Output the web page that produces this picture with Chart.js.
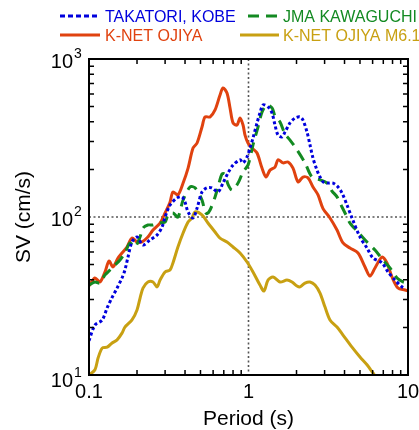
<!DOCTYPE html>
<html>
<head>
<meta charset="utf-8">
<script src="https://cdn.jsdelivr.net/npm/chart.js@4"></script>
<style>
  html, body { margin: 0; padding: 0; background: #fff; }
  #wrap { width: 419px; height: 430px; }
</style>
</head>
<body>
<div id="wrap"><canvas id="c" width="419" height="430"></canvas></div>
<script>
// period (s) and SV (cm/s)
let takatoriT  = [0.1,0.109,0.121,0.130,0.139,0.150,0.161,0.168,0.1756,0.186,0.200,0.218,0.241,0.267,0.287,0.300,0.308,0.322,0.356,0.383,0.400,0.418,0.449,0.476,0.511,0.549,0.590,0.644,0.692,0.744,0.800,0.885,0.924,0.979,1.022,1.067,1.131,1.180,1.233,1.326,1.404,1.466,1.531,1.622,1.694,1.821,1.957,2.103,2.196,2.327,2.430,2.537,2.688,2.808,2.932,3.151,3.387,3.641,3.857,4.146,4.456,5.0,5.533,6.034,6.871,7.493,8.289,9.171,9.6];
let takatoriSV = [16.5,20.7,22.3,26.6,30.7,35.5,41.1,46.2,55.8,69.5,74.7,66.5,71.5,76.9,86.4,100,107.6,119,132,134,124,107.6,98.6,114,144,153,153,144,164,190,213,230,220,240,273,316,394,455,512,497,455,382,330,321,345,394,423,430,411,345,286,236,198,179,167,164,164,155,142,119,98.6,74.7,63.6,55.0,51.2,44.9,39.9,36.1,35];

let kawaguchiT  = [0.1,0.109,0.117,0.126,0.1354,0.1455,0.1564,0.168,0.1807,0.194,0.209,0.218,0.234,0.252,0.271,0.300,0.313,0.336,0.361,0.389,0.430,0.462,0.511,0.534,0.549,0.574,0.617,0.644,0.682,0.71,0.744,0.79,0.860,0.924,0.993,1.067,1.147,1.215,1.30,1.404,1.466,1.576,1.694,1.821,2.014,2.261,2.501,2.808,3.106,3.338,3.589,3.857,4.146,4.329,4.858,5.533,6.210,6.972,7.712,8.531,9.305,10];
let kawaguchiSV = [37.1,38.8,38.2,43.0,46.2,49.7,53.4,59.2,68.5,64.6,74.7,85.2,89.0,89.0,91.6,93,103,106,100,128,155,153,128,107.6,105,110.7,134,155,187,187,161,148,164,193,213,286,371,461,512,490,436,399,335,307,266,220,179,172,164,146,134,115.7,100,91.6,80.4,69.5,61.8,53.4,47.6,41.1,38.8,38.2];

let ojiyaT  = [0.1,0.109,0.117,0.126,0.1335,0.1414,0.152,0.161,0.173,0.186,0.200,0.215,0.234,0.252,0.279,0.300,0.322,0.336,0.361,0.389,0.418,0.449,0.476,0.511,0.534,0.574,0.617,0.663,0.692,0.733,0.766,0.800,0.847,0.885,0.924,0.951,0.993,1.052,1.131,1.215,1.287,1.364,1.466,1.531,1.646,1.769,1.901,2.044,2.196,2.361,2.537,2.728,2.932,3.243,3.589,3.913,4.329,4.858,5.376,5.778,6.210,6.871,7.385,7.938,8.655,9.577,10];
let ojiyaSV = [36.6,41.1,38.8,44.9,52.7,48.3,55.0,59.2,64.6,73.6,69.5,69.5,74.7,82.7,91.6,106,124,144,138,164,204,273,294,371,430,430,476,592,655,609,490,394,382,423,382,330,294,273,254,204,179,198,207,230,220,223,204,167,179,177,155,138,113,98.6,82.7,68.5,63.6,59.2,48.3,42.3,47.6,55.8,51.2,41.7,35.5,34.5,34.0];

let ojiya61T  = [0.1,0.109,0.114,0.121,0.130,0.139,0.150,0.161,0.168,0.186,0.200,0.209,0.218,0.234,0.252,0.267,0.279,0.300,0.322,0.336,0.361,0.389,0.418,0.442,0.462,0.511,0.557,0.617,0.663,0.733,0.800,0.885,0.979,1.067,1.180,1.251,1.326,1.425,1.576,1.743,1.874,2.014,2.103,2.261,2.430,2.612,2.808,3.018,3.243,3.589,3.913,4.456,5.0,5.533,6.034,6.301];
let ojiya61SV = [10.0,10.8,12.8,14.8,15.0,15.9,16.7,18.4,20.1,22.3,25.8,30.7,35.5,38.8,38.8,36.1,39.9,44.9,46.2,51.2,64.6,79.2,93,98.6,107.6,103,91.6,80.4,73.6,69.5,64.6,59.2,51.9,44.9,37.1,34.0,39.9,41.7,38.8,39.9,38.8,36.6,36.1,38.2,38.8,37.1,33.0,26.9,22.3,20.1,17.9,15.0,13.0,11.6,10.3,9.7];

let seriesNames  = ['TAKATORI, KOBE', 'JMA KAWAGUCHI', 'K-NET OJIYA', 'K-NET OJIYA M6.1'];
let seriesColors = ['#0000dd', '#138a22', '#e0420f', '#c8a012'];

let xMajor = [0.1, 1, 10];
let xTickLabels = ['0.1', '1', '10'];
let yMajor = [10, 100, 1000];
let yTickExps = ['1', '2', '3'];

function pts(xs, ys) {
  return xs.map((x, i) => ({ x: x, y: ys[i] }));
}
function minors(lo, hi) {
  let out = [];
  for (let d = lo; d < hi; d *= 10) {
    for (let k = 2; k <= 9; k++) out.push(d * k);
  }
  return out;
}

const FONT = '"Liberation Sans", Arial, sans-serif';

const decor = {
  id: 'decor',
  beforeDatasetsDraw(chart) {
    const c = chart.ctx, a = chart.chartArea;
    const xs = chart.scales.x, ys = chart.scales.y;
    c.save();
    c.strokeStyle = '#555';
    c.lineWidth = 1.6;
    c.setLineDash([2, 2.5]);
    let gx = xs.getPixelForValue(1);
    let gy = ys.getPixelForValue(100);
    c.beginPath();
    c.moveTo(gx, a.top); c.lineTo(gx, a.bottom);
    c.moveTo(a.left, gy); c.lineTo(a.right, gy);
    c.stroke();
    c.restore();
  },
  afterDatasetsDraw(chart) {
    const c = chart.ctx, a = chart.chartArea;
    const xs = chart.scales.x, ys = chart.scales.y;
    c.save();
    // frame
    c.strokeStyle = '#000';
    c.lineWidth = 2;
    c.strokeRect(a.left, a.top, a.right - a.left, a.bottom - a.top);
    // inward ticks on all sides
    c.lineWidth = 1.5;
    c.beginPath();
    minors(0.1, 10).forEach(v => {
      let px = xs.getPixelForValue(v);
      c.moveTo(px, a.bottom); c.lineTo(px, a.bottom - 5);
      c.moveTo(px, a.top); c.lineTo(px, a.top + 5);
    });
    minors(10, 1000).forEach(v => {
      let py = ys.getPixelForValue(v);
      c.moveTo(a.left, py); c.lineTo(a.left + 5, py);
      c.moveTo(a.right, py); c.lineTo(a.right - 5, py);
    });
    c.stroke();

    // x tick labels
    c.fillStyle = '#000';
    c.font = '20px ' + FONT;
    c.textAlign = 'center';
    c.textBaseline = 'alphabetic';
    xMajor.forEach((v, i) => {
      c.fillText(xTickLabels[i], xs.getPixelForValue(v), a.bottom + 23);
    });
    // y tick labels 10^n
    yMajor.forEach((v, i) => {
      let py = ys.getPixelForValue(v);
      if (i === 0) py += 3;
      c.font = '20px ' + FONT;
      c.textAlign = 'right';
      c.fillText('10', 73, py + 9);
      c.font = '14px ' + FONT;
      c.textAlign = 'left';
      c.fillText(yTickExps[i], 74, py - 1);
    });
    // axis titles
    c.font = '21px ' + FONT;
    c.textAlign = 'center';
    c.fillText('Period (s)', (a.left + a.right) / 2, 425);
    c.save();
    c.translate(30, (a.top + a.bottom) / 2);
    c.rotate(-Math.PI / 2);
    c.fillText('SV (cm/s)', 0, 0);
    c.restore();

    // legend
    const items = [
      { x1: 60, x2: 100, tx: 105, y: 16 },
      { x1: 248, x2: 279, tx: 283, y: 16 },
      { x1: 60, x2: 100, tx: 105, y: 35 },
      { x1: 240, x2: 279, tx: 283, y: 35 }
    ];
    c.font = '16px ' + FONT;
    c.textAlign = 'left';
    c.textBaseline = 'middle';
    chart.data.datasets.forEach((ds, i) => {
      let it = items[i];
      c.strokeStyle = ds.borderColor;
      c.lineWidth = 3;
      c.setLineDash(ds.legendDash || []);
      c.beginPath();
      c.moveTo(it.x1, it.y); c.lineTo(it.x2, it.y);
      c.stroke();
      c.setLineDash([]);
      c.fillStyle = ds.borderColor;
      c.fillText(ds.label, it.tx, it.y + 1.5);
    });
    c.restore();
  }
};

new Chart(document.getElementById('c'), {
  type: 'line',
  data: {
    datasets: [
      { label: seriesNames[0], data: pts(takatoriT, takatoriSV), borderColor: seriesColors[0], borderWidth: 3, borderDash: [3, 2.5], legendDash: [5, 3], tension: 0.3 },
      { label: seriesNames[1], data: pts(kawaguchiT, kawaguchiSV), borderColor: seriesColors[1], borderWidth: 3, borderDash: [11, 7], legendDash: [11, 7], tension: 0.3 },
      { label: seriesNames[2], data: pts(ojiyaT, ojiyaSV), borderColor: seriesColors[2], borderWidth: 3, tension: 0.3 },
      { label: seriesNames[3], data: pts(ojiya61T, ojiya61SV), borderColor: seriesColors[3], borderWidth: 3, tension: 0.3 }
    ]
  },
  options: {
    responsive: false,
    animation: false,
    layout: { padding: { left: 89, right: 11, top: 59, bottom: 55 } },
    elements: { point: { radius: 0 } },
    scales: {
      x: { type: 'logarithmic', min: 0.1, max: 10, display: false },
      y: { type: 'logarithmic', min: 10, max: 1000, display: false }
    },
    plugins: { legend: { display: false }, tooltip: { enabled: false } }
  },
  plugins: [decor]
});
</script>
</body>
</html>
